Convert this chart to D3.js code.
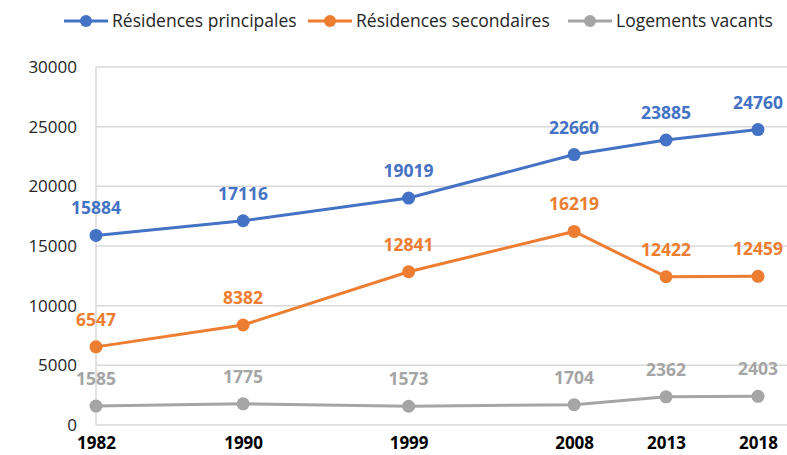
<!DOCTYPE html>
<html>
<head>
<meta charset="utf-8">
<script src="https://cdn.jsdelivr.net/npm/d3@7"></script>
<style>
  body { margin: 0; background: #fff; }
  svg { display: block; font-family: "Open Sans", "Noto Sans", sans-serif; }
</style>
</head>
<body>
<div id="chart"></div>
<script>
// Data
let years = [1982, 1990, 1999, 2008, 2013, 2018];
let principales = [15884, 17116, 19019, 22660, 23885, 24760];
let secondaires = [6547, 8382, 12841, 16219, 12422, 12459];
let vacants = [1585, 1775, 1573, 1704, 2362, 2403];
let seriesNames = ["Résidences principales", "Résidences secondaires", "Logements vacants"];
let yTicks = [0, 5000, 10000, 15000, 20000, 25000, 30000];

let width = 787, height = 455;
let margin = {top: 67, right: 29, bottom: 30, left: 96};

let colors = ["#4472C4", "#ED7D31", "#A5A5A5"];
let series = [principales, secondaires, vacants].map(function(vals, i) {
    return {name: seriesNames[i], color: colors[i], values: vals.map(function(v, j) { return {year: years[j], value: v}; })};
});

let svg = d3.select("#chart")
    .append("svg")
    .attr("width", width)
    .attr("height", height);

// Years sit on a linear scale (spacing follows the gap between years)
let x = d3.scaleLinear()
    .domain([1982, 2018])
    .range([margin.left, width - margin.right]);

let y = d3.scaleLinear()
    .domain([0, 30000])
    .range([height - margin.bottom, margin.top]);

// Horizontal gridlines
svg.append("g")
    .selectAll("line")
    .data(yTicks)
    .enter()
    .append("line")
    .attr("x1", margin.left)
    .attr("x2", width)
    .attr("y1", function(d) { return y(d); })
    .attr("y2", function(d) { return y(d); })
    .attr("stroke", "#D9D9D9")
    .attr("stroke-width", 1.5);

// Vertical axis line
svg.append("line")
    .attr("x1", margin.left)
    .attr("x2", margin.left)
    .attr("y1", y(30000))
    .attr("y2", y(0))
    .attr("stroke", "#D9D9D9")
    .attr("stroke-width", 1.5);

// Y axis labels
let yAxis = svg.append("g")
    .attr("transform", `translate(${margin.left - 19}, 0)`)
    .call(d3.axisLeft(y).tickValues(yTicks).tickSize(0).tickPadding(0).tickFormat(d3.format("d")));
yAxis.select(".domain").remove();
yAxis.selectAll("text")
    .style("font-size", "17px")
    .style("font-family", "'Open Sans', sans-serif")
    .attr("fill", "#262626");

// X axis labels
let xAxis = svg.append("g")
    .attr("transform", `translate(0, ${y(0) + 12})`)
    .call(d3.axisBottom(x).tickValues(years).tickSize(0).tickPadding(0).tickFormat(d3.format("d")));
xAxis.select(".domain").remove();
xAxis.selectAll("text")
    .style("font-size", "17px")
    .style("font-weight", "bold")
    .style("font-family", "'Open Sans', sans-serif")
    .attr("fill", "#000");

let line = d3.line()
    .x(function(d) { return x(d.year); })
    .y(function(d) { return y(d.value); });

// Lines, markers and value labels
series.forEach(function(s) {
    svg.append("path")
        .datum(s.values)
        .attr("fill", "none")
        .attr("stroke", s.color)
        .attr("stroke-width", 3)
        .attr("d", line);

    svg.append("g")
        .selectAll("circle")
        .data(s.values)
        .enter()
        .append("circle")
        .attr("cx", function(d) { return x(d.year); })
        .attr("cy", function(d) { return y(d.value); })
        .attr("r", 6.5)
        .attr("fill", s.color);

    svg.append("g")
        .selectAll("text")
        .data(s.values)
        .enter()
        .append("text")
        .attr("x", function(d) { return x(d.year); })
        .attr("y", function(d) { return y(d.value) - 21; })
        .style("text-anchor", "middle")
        .style("font-size", "17.5px")
        .style("font-weight", "bold")
        .attr("fill", s.color)
        .text(function(d) { return d.value; });
});

// Legend
let legendX = [64, 308, 568];
let legend = svg.append("g")
    .selectAll("g")
    .data(series)
    .enter()
    .append("g")
    .attr("transform", function(d, i) { return `translate(${legendX[i]}, 21)`; });
legend.append("line")
    .attr("x1", 0).attr("x2", 44)
    .attr("stroke", function(d) { return d.color; })
    .attr("stroke-width", 3);
legend.append("circle")
    .attr("cx", 22)
    .attr("r", 6)
    .attr("fill", function(d) { return d.color; });
legend.append("text")
    .attr("x", 48)
    .attr("dy", "0.35em")
    .style("font-size", "17.5px")
    .attr("fill", "#262626")
    .text(function(d) { return d.name; });
</script>
</body>
</html>
